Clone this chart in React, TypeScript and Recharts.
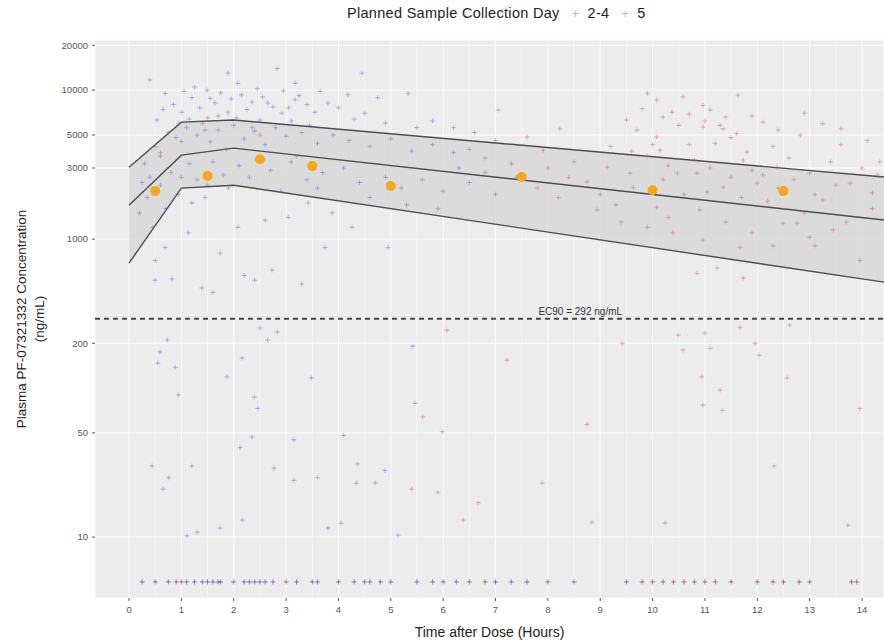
import {
  Area,
  CartesianGrid,
  ComposedChart,
  Line,
  ReferenceLine,
  Scatter,
  XAxis,
  YAxis,
} from 'recharts'

// ribbon (model prediction interval), knots in hours
const ribbonTimes = [0, 1, 2, 14.42]
const ribbonLower = [690, 2200, 2300, 514]
const ribbonMedian = [1690, 3660, 4080, 1343]
const ribbonUpper = [3040, 6100, 6300, 2610]

// orange binned observed medians
const medianTimes = [0.5, 1.5, 2.5, 3.5, 5, 7.5, 10, 12.5]
const medianConc = [2100, 2650, 3440, 3090, 2270, 2610, 2130, 2100]

// individual observations [hours, ng/mL]
const day24Obs: Array<[number, number]> = [
  [0.4, 11700], [1.89, 13000], [2.08, 11100], [2.83, 14000], [3.17, 11100], [4.45, 13000],
  [1.49, 10000], [0.69, 9500], [1.2, 8900], [1.64, 8200], [2.35, 8300], [2.65, 8200],
  [3.17, 8600], [3.8, 8200], [4.18, 9300], [4.5, 7000], [4.75, 8900], [5.33, 9500],
  [1.01, 7100], [1.89, 7100], [2.92, 7000], [0.53, 6300], [3.55, 7100], [5.8, 6200],
  [6.2, 5600], [6.6, 5200], [7.0, 4600],
  [0.85, 8000], [1.05, 9800], [1.25, 10500], [1.35, 7600], [1.55, 8800], [1.75, 9600],
  [1.95, 8700], [2.15, 9300], [2.25, 7400], [2.45, 10200], [2.55, 9000], [2.75, 7700],
  [2.95, 9900], [3.05, 7600], [3.25, 9200], [3.4, 8000], [3.65, 9800], [4.0, 7600],
  [1.15, 6400], [1.7, 6700], [2.05, 6500], [2.5, 6300], [3.1, 6200], [0.65, 7400],
  [0.95, 6000], [1.45, 5400], [2.35, 5600], [3.45, 5800], [4.3, 6400], [4.9, 6000],
  [5.5, 5600],
  [0.3, 3200], [0.5, 4200], [0.6, 3600], [0.75, 5200], [0.9, 4800], [1.1, 5600],
  [1.3, 5000], [1.4, 6000], [1.55, 4500], [1.7, 5400], [1.85, 4000], [2.0, 5800],
  [2.2, 4700], [2.4, 5300], [2.6, 4300], [2.8, 5600], [3.0, 4900], [3.3, 5200],
  [3.6, 4400], [3.9, 5000], [4.2, 4600], [4.6, 4200], [5.0, 4700], [5.4, 3900],
  [5.8, 4300], [6.2, 3800],
  [0.2, 1500], [0.35, 1900], [0.45, 1200], [0.6, 2300], [0.8, 2800], [0.95, 2000],
  [1.15, 3200], [1.3, 2500], [1.6, 3300], [1.8, 2700], [2.1, 3100], [2.3, 2600],
  [2.7, 2900], [3.1, 3300], [3.4, 2500], [3.7, 2800], [4.1, 3000], [4.4, 2400],
  [4.9, 2600], [5.2, 2200], [5.6, 2500], [6.0, 2100], [6.5, 2400], [7.0, 2000],
  [0.4, 2600], [0.25, 2400], [0.7, 1600], [1.0, 2600], [1.5, 2300], [2.9, 2100],
  [3.6, 2200], [4.6, 1900], [5.3, 1700], [5.9, 1600], [6.3, 3000], [6.8, 2800],
  [7.3, 3200],
  [1.2, 1750], [1.13, 1100], [0.69, 880], [0.5, 720], [0.5, 530], [0.82, 540],
  [1.39, 470], [1.6, 440], [2.2, 570], [2.4, 530], [3.3, 500], [2.73, 620],
  [1.74, 805], [2.6, 1340], [3.04, 1400], [3.42, 1750], [3.88, 1500], [4.26, 1200],
  [3.74, 880], [4.95, 880], [2.08, 1200], [1.45, 1900],
  [0.73, 210], [0.59, 175], [0.55, 147], [0.88, 138], [0.94, 90], [2.5, 253],
  [2.65, 210], [2.83, 238], [2.16, 159], [1.87, 119], [2.39, 87], [2.46, 73],
  [2.35, 47], [2.12, 40], [3.48, 117], [3.15, 45], [4.1, 48], [0.44, 30],
  [1.2, 30], [0.76, 25], [0.65, 21], [2.77, 29], [3.15, 24], [3.6, 25],
  [4.37, 31], [4.34, 23], [4.7, 23], [4.89, 28], [5.42, 191], [5.46, 79],
  [2.16, 13], [1.74, 11.5], [1.3, 10.8], [1.11, 10.2], [3.8, 11.5], [4.05, 12.4],
  [5.14, 10.3],
]

const day5Obs: Array<[number, number]> = [
  [7.05, 7350], [10.58, 9000], [11.63, 9250], [10.08, 8570], [10.96, 7900], [11.1, 7350],
  [10.37, 7100], [11.29, 5800], [11.35, 5500], [10.96, 5650], [12.11, 6100], [13.25, 5950],
  [12.82, 5000], [14.1, 4600], [14.34, 3300], [8.23, 5500], [9.7, 5400], [10.08, 4840],
  [10.14, 3950], [11.8, 3840], [11.73, 3390], [10.47, 2770], [10.85, 2770], [11.04, 2070],
  [11.35, 2230], [12.0, 2380], [10.08, 1640], [10.9, 1570], [10.39, 1100], [10.96, 985],
  [11.67, 880], [12.49, 1280], [12.76, 1280], [13.0, 1030], [13.96, 720], [13.45, 1150],
  [13.77, 2380], [14.2, 2040], [10.85, 590], [11.73, 547], [11.23, 640], [9.13, 3040],
  [8.75, 2420], [9.57, 2770], [8.94, 1570], [7.91, 3950], [7.6, 4840], [12.38, 3040],
  [13.0, 2770], [13.25, 1830], [9.63, 2230],
  [9.5, 6300], [9.8, 7500], [10.2, 6600], [10.5, 5800], [10.7, 6900], [11.0, 6200],
  [11.2, 4400], [11.4, 6600], [11.6, 5100], [11.9, 6700], [12.4, 5400], [9.6, 3900],
  [10.0, 4300], [10.2, 2500], [10.6, 2000], [10.8, 3400], [11.1, 3000], [11.5, 2600],
  [11.7, 1900], [12.1, 2700], [12.4, 2200], [12.7, 2500], [13.1, 2000], [13.5, 2300],
  [14.2, 1600], [9.0, 2000], [9.4, 1300], [9.9, 1200], [10.3, 1400], [11.4, 1300],
  [11.9, 1100], [12.3, 900], [13.1, 900], [8.0, 3000], [8.4, 2600], [7.8, 2200],
  [14.3, 2700], [9.9, 9500], [12.9, 7000], [13.6, 5500],
  [0.6, 3800], [1.0, 4500], [1.5, 6500], [2.5, 5000], [3.2, 3600], [1.9, 2200],
  [6.5, 4000], [6.8, 3500], [7.4, 2600], [8.5, 3300], [9.2, 4200], [9.9, 3600],
  [10.3, 3100], [10.7, 4300], [11.5, 4800], [11.9, 2900], [12.3, 4200], [12.6, 3500],
  [13.4, 3300], [13.6, 4300], [14.0, 3000], [8.2, 1900], [9.3, 1700], [12.2, 1800],
  [12.9, 1500], [13.7, 1300],
  [5.61, 64], [5.98, 51], [6.07, 245], [5.4, 21], [5.9, 20], [6.67, 17],
  [6.38, 13], [7.22, 154], [9.42, 200], [10.49, 227], [11.0, 234], [10.58, 180],
  [11.1, 185], [11.67, 256], [11.96, 200], [12.03, 166], [10.94, 119], [11.29, 97],
  [10.96, 77], [11.33, 71], [12.57, 117], [13.96, 73], [8.75, 57], [7.89, 23],
  [12.32, 30], [8.84, 12.6], [10.24, 12.4], [13.73, 12], [12.62, 265],
]

// below-quantification samples, plotted at a fixed concentration
const blqConc = 5
const blqDay24Times = [
  0.25, 0.5, 0.75, 1, 1.1, 1.25, 1.4, 1.5, 1.6, 1.75, 2, 2.2, 2.4, 2.5, 2.6, 2.75, 3.2, 3.5,
  3.6, 4.0, 4.3, 4.5, 4.6, 4.8, 5.0, 5.5, 5.8, 6.0, 6.25, 6.5, 7, 7.3, 7.6, 8.0, 8.5, 9.5,
]
const blqDay5Times = [
  0.9, 1.7, 2.3, 3, 6.8, 9.8, 10, 10.2, 10.4, 10.6, 10.8, 11, 11.2, 11.5, 12, 12.3, 12.5,
  12.8, 13, 13.8, 13.9,
]

const ec90 = 292
const xTicks = [0, 1, 2, 3, 4, 5, 6, 7, 8, 9, 10, 11, 12, 13, 14]
const yTicks = [10, 50, 200, 1000, 3000, 5000, 10000, 20000]

const COL24 = '#6b6bd0'
const COL5 = '#c8607a'
const FONT = '"Liberation Sans", Arial, sans-serif'

const ribbonData = ribbonTimes.map((t, i) => ({
  t,
  band: [ribbonLower[i], ribbonUpper[i]],
  lower: ribbonLower[i],
  median: ribbonMedian[i],
  upper: ribbonUpper[i],
}))
const toPts = (arr: Array<[number, number]>) => arr.map(([t, c]) => ({ t, c }))
const day24Pts = toPts(day24Obs)
const day5Pts = toPts(day5Obs)
const blq24Pts = blqDay24Times.map((t) => ({ t, c: blqConc }))
const blq5Pts = blqDay5Times.map((t) => ({ t, c: blqConc }))
const medianPts = medianTimes.map((t, i) => ({ t, c: medianConc[i] }))

const cross = (color: string, opacity: number) => (p: any) => {
  const { cx, cy } = p
  if (cx == null || cy == null) return <g />
  return (
    <g stroke={color} strokeOpacity={opacity} strokeWidth={1}>
      <line x1={cx - 2.5} y1={cy} x2={cx + 2.5} y2={cy} />
      <line x1={cx} y1={cy - 2.5} x2={cx} y2={cy + 2.5} />
    </g>
  )
}

const dot = (p: any) => <circle cx={p.cx} cy={p.cy} r={5} fill="#f5a81c" />

function YTitle({ viewBox }: any) {
  const cy = viewBox.y + viewBox.height / 2
  return (
    <g fontFamily={FONT} fontSize={13.5} fill="#222">
      <text x={21} y={cy} transform={`rotate(-90 21 ${cy})`} textAnchor="middle" dominantBaseline="central">
        Plasma PF-07321332 Concentration
      </text>
      <text x={39} y={cy} transform={`rotate(-90 39 ${cy})`} textAnchor="middle" dominantBaseline="central">
        (ng/mL)
      </text>
    </g>
  )
}

function XTitle({ viewBox }: any) {
  return (
    <text x={viewBox.x + viewBox.width / 2} y={viewBox.y + 39} textAnchor="middle" fontFamily={FONT} fontSize={14} fill="#222">
      Time after Dose (Hours)
    </text>
  )
}

function Ec90Label({ viewBox }: any) {
  return (
    <text x={viewBox.x + viewBox.width * 0.615} y={viewBox.y - 4} textAnchor="middle" fontFamily={FONT} fontSize={10} fill="#333">
      EC90 = {ec90} ng/mL
    </text>
  )
}

export default function App() {
  return (
    <div style={{ position: 'relative', width: 884, height: 642, background: '#fff' }}>
      <style>{'body{margin:0}'}</style>
      <div
        style={{
          position: 'absolute',
          top: 5,
          left: 347,
          display: 'flex',
          alignItems: 'center',
          fontFamily: FONT,
          fontSize: 14.5,
          letterSpacing: 0.3,
          color: '#222',
          whiteSpace: 'nowrap',
        }}
      >
        <span>Planned Sample Collection Day</span>
        <span style={{ color: COL24, opacity: 0.5, marginLeft: 12, fontSize: 13 }}>+</span>
        <span style={{ marginLeft: 8 }}>2-4</span>
        <span style={{ color: COL5, opacity: 0.5, marginLeft: 12, fontSize: 13 }}>+</span>
        <span style={{ marginLeft: 8 }}>5</span>
      </div>
      <ComposedChart width={884} height={642} data={ribbonData} margin={{ top: 40, right: 0, bottom: 0, left: 0 }}>
        <CartesianGrid
          fill="#ececec"
          stroke="#f8f8f8"
          strokeWidth={0.6}
          verticalValues={xTicks.map((v) => v + 0.5)}
          horizontalValues={[]}
        />
        <CartesianGrid fill="none" stroke="#fafafa" strokeWidth={1} />
        <XAxis
          dataKey="t"
          type="number"
          domain={[-0.65, 14.42]}
          ticks={xTicks}
          allowDataOverflow
          axisLine={false}
          tickSize={3}
          tickMargin={5}
          tickLine={{ stroke: '#555' }}
          tick={{ fontSize: 9.5, fill: '#555', fontFamily: FONT }}
          height={44}
          label={<XTitle />}
        />
        <YAxis
          dataKey="c"
          scale="log"
          domain={[3.9, 21700]}
          ticks={yTicks}
          allowDataOverflow
          axisLine={false}
          tickSize={3}
          tickMargin={4}
          tickLine={{ stroke: '#555' }}
          tick={{ fontSize: 9.5, fill: '#555', fontFamily: FONT }}
          width={95}
          label={<YTitle />}
        />
        <Area
          dataKey="band"
          type="linear"
          fill="#d8d8d8"
          fillOpacity={0.85}
          stroke="none"
          isAnimationActive={false}
        />
        <Scatter data={day24Pts} dataKey="c" shape={cross(COL24, 0.45)} isAnimationActive={false} />
        <Scatter data={day5Pts} dataKey="c" shape={cross(COL5, 0.45)} isAnimationActive={false} />
        <Scatter data={blq24Pts} dataKey="c" shape={cross('#4a3a8a', 0.6)} isAnimationActive={false} />
        <Scatter data={blq5Pts} dataKey="c" shape={cross('#8a2a4a', 0.6)} isAnimationActive={false} />
        <Line dataKey="upper" type="linear" stroke="#4d4d4d" strokeWidth={1.4} dot={false} isAnimationActive={false} />
        <Line dataKey="median" type="linear" stroke="#4d4d4d" strokeWidth={1.4} dot={false} isAnimationActive={false} />
        <Line dataKey="lower" type="linear" stroke="#4d4d4d" strokeWidth={1.4} dot={false} isAnimationActive={false} />
        <ReferenceLine y={ec90} stroke="#444" strokeWidth={2} strokeDasharray="5 4" label={<Ec90Label />} />
        <Scatter data={medianPts} dataKey="c" shape={dot} isAnimationActive={false} />
      </ComposedChart>
    </div>
  )
}
